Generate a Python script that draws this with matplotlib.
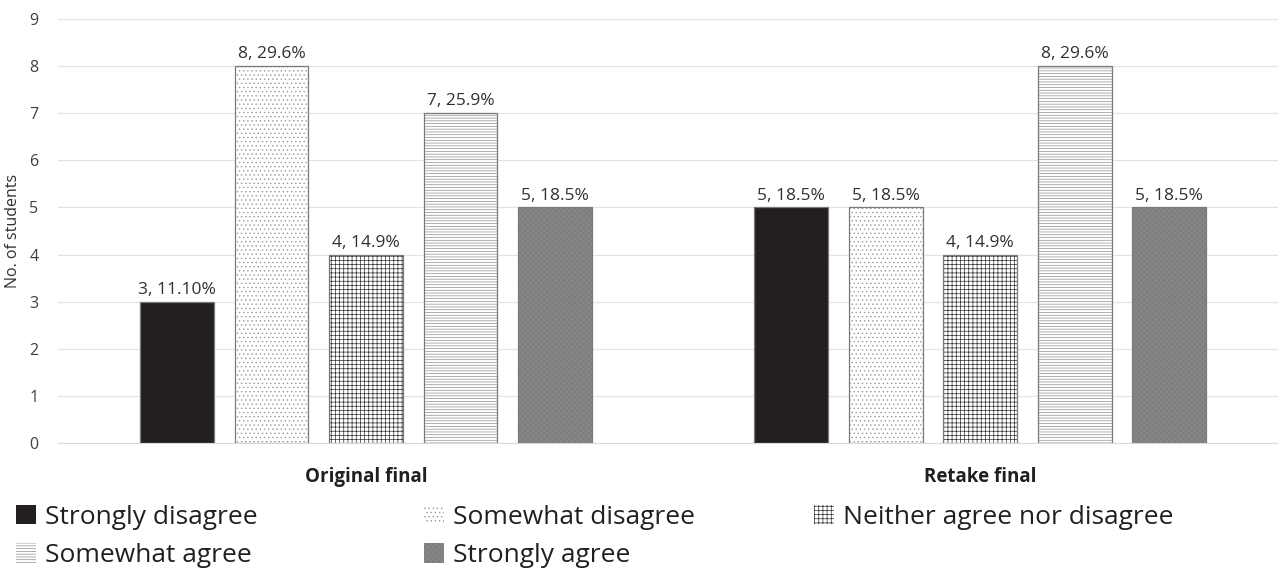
import numpy as np
import matplotlib as mpl
import matplotlib.pyplot as plt

mpl.rcParams['font.family'] = 'Open Sans'
mpl.rcParams['hatch.linewidth'] = 0.5

# survey responses per exam
groups     = ['Original final', 'Retake final']
responses  = ['Strongly disagree', 'Somewhat disagree', 'Neither agree nor disagree',
              'Somewhat agree', 'Strongly agree']
counts     = [[3, 8, 4, 7, 5],
              [5, 5, 4, 8, 5]]
pct_labels = [['3, 11.10%', '8, 29.6%', '4, 14.9%', '7, 25.9%', '5, 18.5%'],
              ['5, 18.5%', '5, 18.5%', '4, 14.9%', '8, 29.6%', '5, 18.5%']]

# fill styles for each response (face, hatch, hatch colour)
styles = [('#231f20', None, '#231f20'),
          ('white', '....', '#9a9a9a'),
          ('white', '++++', '#303030'),
          ('white', '------', '#8f8f8f'),
          ('#868686', 'xxxxxx', '#7a7a7a')]

fig = plt.figure(figsize=(12.78, 5.75), dpi=100)
ax = fig.add_axes([58/1278, 1-443/575, 1-58/1278, (443-19)/575])

gap = 6.5      # distance between group centres in bar slots
width = 0.78
handles = []
for j, resp in enumerate(responses):
    fc, hatch, hc = styles[j]
    xs = [i*gap + (j-2) for i in range(len(groups))]
    ys = [counts[i][j] for i in range(len(groups))]
    mpl.rcParams['hatch.color'] = hc
    bars = ax.bar(xs, ys, width, color=fc, hatch=hatch, edgecolor=hc,
                  linewidth=0, zorder=2, label=resp)
    # thin grey outline drawn separately so hatch colour stays independent
    ax.bar(xs, ys, width, fill=False, edgecolor='#7a7a7a', linewidth=0.9, zorder=3)
    handles.append(bars)
    for x, y, lab in zip(xs, ys, [pct_labels[i][j] for i in range(len(groups))]):
        ax.text(x, y + 0.08, lab, ha='center', va='bottom', fontsize=12.5, color='#303030')

ax.set_xlim(-3.26, 9.65)
ax.set_ylim(0, 9)
ax.set_yticks(range(0, 10))
ax.tick_params(axis='y', length=0, labelsize=11.5, labelcolor='#404040', pad=14)
ax.set_xticks([i*gap for i in range(len(groups))])
ax.set_xticklabels(groups, fontweight='bold', fontsize=13.5, color='#202020')
ax.tick_params(axis='x', length=0, pad=17)
ax.yaxis.grid(True, color='#e4e4e4', linewidth=0.9, zorder=0)
ax.set_axisbelow(True)
for s in ['top', 'right', 'left']:
    ax.spines[s].set_visible(False)
ax.spines['bottom'].set_color('#d9d9d9')
ax.set_ylabel('No. of students', fontsize=11.5, color='#303030', labelpad=6)

# legend: two columns on the left (filled column by column), one on the right
leg_kw = dict(frameon=False, fontsize=19, handlelength=0.75, handleheight=0.75,
              handletextpad=0.35, labelspacing=0.5, borderaxespad=0.0,
              borderpad=0.0)
left = [0, 3, 1, 4]
leg1 = fig.legend([handles[k] for k in left], [responses[k] for k in left],
                  loc='upper left', bbox_to_anchor=(16/1278, 1-505/575), ncol=2,
                  columnspacing=6.3, **leg_kw)
leg2 = fig.legend([handles[2]], [responses[2]],
                  loc='upper left', bbox_to_anchor=(814/1278, 1-505/575), **leg_kw)
for lg in (leg1, leg2):
    for t in lg.get_texts():
        t.set_color('#202020')

fig.savefig('out.png', dpi=100)
